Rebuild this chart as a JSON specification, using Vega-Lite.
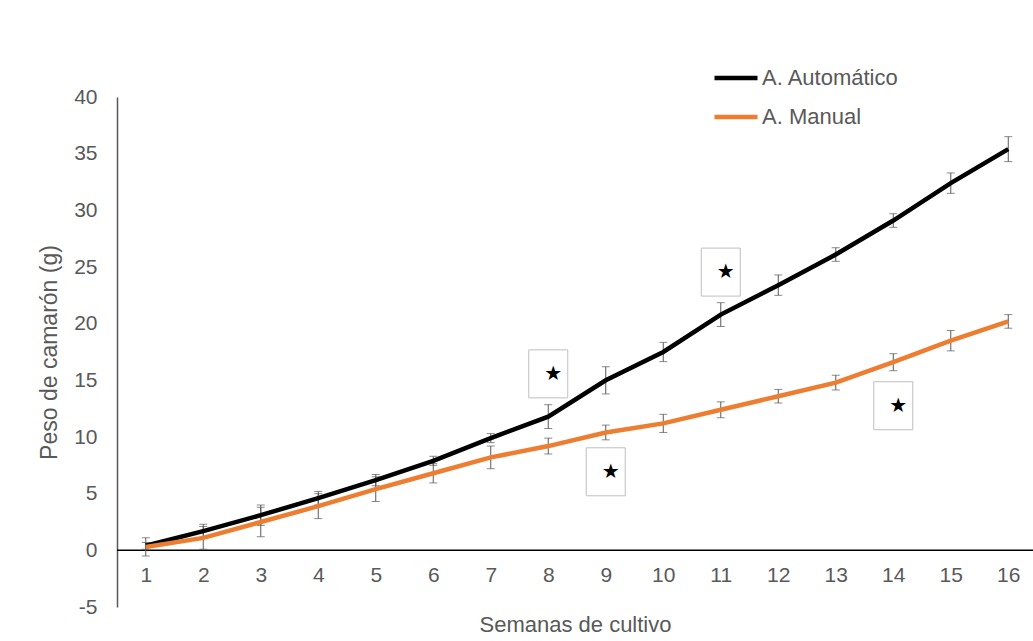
{
  "$schema": "https://vega.github.io/schema/vega-lite/v6.json",
  "autosize": {"type": "none"},
  "width": 916,
  "height": 510,
  "padding": {"left": 117, "top": 97, "right": 0, "bottom": 34},
  "background": "#ffffff",
  "config": {
    "font": "Liberation Sans",
    "view": {"stroke": null},
    "axis": {"grid": false, "ticks": false, "labelColor": "#595959", "titleColor": "#595959", "titleFontWeight": "normal"}
  },
  "datasets": {
    "peso": [
      {"semana": 1, "serie": "A. Automático", "peso": 0.4, "de": 0.3},
      {"semana": 2, "serie": "A. Automático", "peso": 1.7, "de": 0.6},
      {"semana": 3, "serie": "A. Automático", "peso": 3.1, "de": 0.9},
      {"semana": 4, "serie": "A. Automático", "peso": 4.6, "de": 0.6},
      {"semana": 5, "serie": "A. Automático", "peso": 6.2, "de": 0.5},
      {"semana": 6, "serie": "A. Automático", "peso": 7.9, "de": 0.4},
      {"semana": 7, "serie": "A. Automático", "peso": 9.9, "de": 0.4},
      {"semana": 8, "serie": "A. Automático", "peso": 11.8, "de": 1.05},
      {"semana": 9, "serie": "A. Automático", "peso": 15.0, "de": 1.2},
      {"semana": 10, "serie": "A. Automático", "peso": 17.5, "de": 0.85},
      {"semana": 11, "serie": "A. Automático", "peso": 20.8, "de": 1.05},
      {"semana": 12, "serie": "A. Automático", "peso": 23.4, "de": 0.9},
      {"semana": 13, "serie": "A. Automático", "peso": 26.1, "de": 0.6},
      {"semana": 14, "serie": "A. Automático", "peso": 29.1, "de": 0.6},
      {"semana": 15, "serie": "A. Automático", "peso": 32.4, "de": 0.9},
      {"semana": 16, "serie": "A. Automático", "peso": 35.4, "de": 1.1},
      {"semana": 1, "serie": "A. Manual", "peso": 0.3, "de": 0.8},
      {"semana": 2, "serie": "A. Manual", "peso": 1.1, "de": 1.0},
      {"semana": 3, "serie": "A. Manual", "peso": 2.5, "de": 1.3},
      {"semana": 4, "serie": "A. Manual", "peso": 3.9, "de": 1.1},
      {"semana": 5, "serie": "A. Manual", "peso": 5.4, "de": 1.1},
      {"semana": 6, "serie": "A. Manual", "peso": 6.8, "de": 0.85},
      {"semana": 7, "serie": "A. Manual", "peso": 8.2, "de": 1.0},
      {"semana": 8, "serie": "A. Manual", "peso": 9.2, "de": 0.7},
      {"semana": 9, "serie": "A. Manual", "peso": 10.4, "de": 0.65},
      {"semana": 10, "serie": "A. Manual", "peso": 11.2, "de": 0.8},
      {"semana": 11, "serie": "A. Manual", "peso": 12.4, "de": 0.7},
      {"semana": 12, "serie": "A. Manual", "peso": 13.6, "de": 0.6},
      {"semana": 13, "serie": "A. Manual", "peso": 14.8, "de": 0.65},
      {"semana": 14, "serie": "A. Manual", "peso": 16.6, "de": 0.75},
      {"semana": 15, "serie": "A. Manual", "peso": 18.5, "de": 0.9},
      {"semana": 16, "serie": "A. Manual", "peso": 20.2, "de": 0.6}
    ],
    "signif": [
      {"semana": 8, "nivel": 15.57, "marca": "★"},
      {"semana": 9, "nivel": 6.93, "marca": "★"},
      {"semana": 11, "nivel": 24.55, "marca": "★"},
      {"semana": 14, "nivel": 12.76, "marca": "★"}
    ]
  },
  "layer": [
    {
      "data": {"values": [{"cero": 0}]},
      "mark": {"type": "rule", "color": "#000000", "strokeWidth": 1.5},
      "encoding": {"y": {"field": "cero", "type": "quantitative", "title": "Peso de camarón  (g)", "scale": {"domain": [-5, 40], "nice": false}}}
    },
    {
      "data": {"name": "peso"},
      "mark": {"type": "errorbar", "color": "#595959", "thickness": 1, "ticks": {"size": 8, "color": "#595959"}},
      "encoding": {
        "x": {"field": "semana", "type": "quantitative", "title": "Semanas  de cultivo"},
        "y": {"field": "peso", "type": "quantitative", "title": "Peso de camarón  (g)"},
        "yError": {"field": "de"}
      }
    },
    {
      "data": {"name": "peso"},
      "mark": {"type": "line", "strokeWidth": 4.5},
      "encoding": {
        "x": {
          "field": "semana", "type": "quantitative", "title": "Semanas  de cultivo",
          "scale": {"domain": [0.5, 16.43], "nice": false, "zero": false},
          "axis": {
            "values": [1, 2, 3, 4, 5, 6, 7, 8, 9, 10, 11, 12, 13, 14, 15, 16],
            "format": "d",
            "domain": false, "offset": -57, "labelFontSize": 21, "labelPadding": 14,
            "titleFontSize": 22, "titlePadding": 29
          }
        },
        "y": {
          "field": "peso", "type": "quantitative", "title": "Peso de camarón  (g)",
          "scale": {"domain": [-5, 40], "nice": false, "zero": false},
          "axis": {
            "values": [-5, 0, 5, 10, 15, 20, 25, 30, 35, 40],
            "labelExpr": "'' + datum.value",
            "domainColor": "#595959", "domainWidth": 1.5,
            "labelFontSize": 21, "labelPadding": 20,
            "titleFontSize": 23, "titlePadding": 12
          }
        },
        "color": {
          "field": "serie", "type": "nominal",
          "scale": {"domain": ["A. Automático", "A. Manual"], "range": ["#000000", "#ED7D31"]},
          "legend": {
            "title": null, "orient": "none", "legendX": 595, "legendY": -43,
            "symbolType": "stroke", "symbolSize": 1849, "symbolStrokeWidth": 4.5,
            "labelFontSize": 22, "labelColor": "#595959", "labelOffset": 2, "rowPadding": 4
          }
        }
      }
    },
    {
      "data": {"name": "signif"},
      "mark": {"type": "point", "shape": "M-0.8125,-1H0.8125V1H-0.8125Z", "size": 2304, "filled": false, "stroke": "#bfbfbf", "strokeWidth": 1, "opacity": 1},
      "encoding": {
        "x": {"field": "semana", "type": "quantitative", "title": "Semanas  de cultivo"},
        "y": {"field": "nivel", "type": "quantitative", "title": "Peso de camarón  (g)"}
      }
    },
    {
      "data": {"name": "signif"},
      "mark": {"type": "text", "font": "DejaVu Sans", "fontSize": 20, "color": "#000000", "dx": 5, "baseline": "middle", "align": "center"},
      "encoding": {
        "x": {"field": "semana", "type": "quantitative", "title": "Semanas  de cultivo"},
        "y": {"field": "nivel", "type": "quantitative", "title": "Peso de camarón  (g)"},
        "text": {"field": "marca"}
      }
    }
  ]
}
